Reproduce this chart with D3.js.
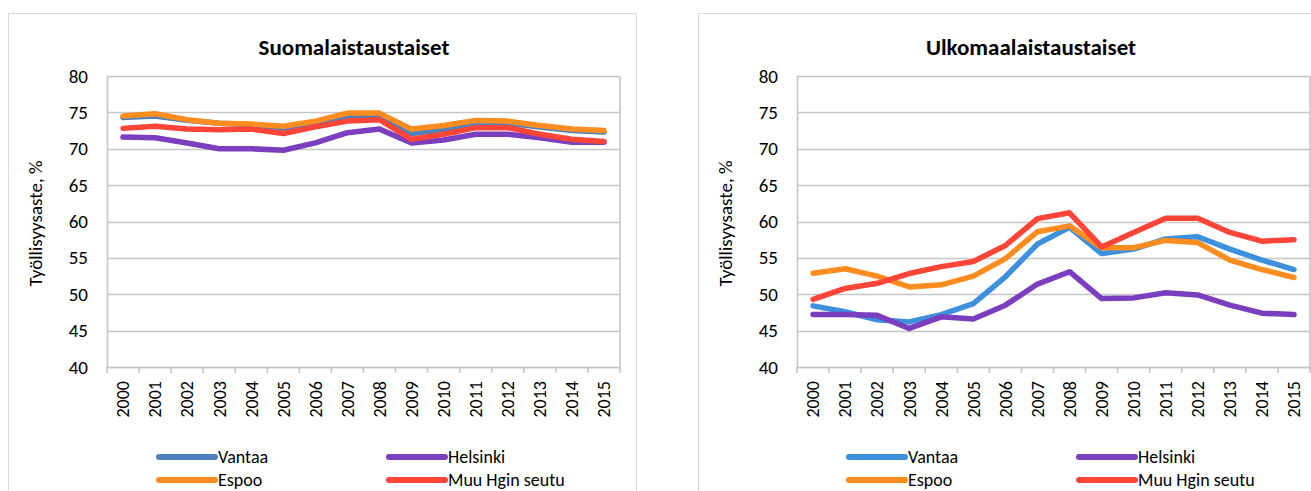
<!DOCTYPE html>
<html>
<head>
<meta charset="utf-8">
<script src="https://cdn.jsdelivr.net/npm/d3@7"></script>
<style>
    body { margin: 0; background: #fff; }
    svg { display: block; font-family: Carlito, Lato, "Open Sans", sans-serif; }
</style>
</head>
<body>
<div id="chart"></div>
<script>
// vuodet ja sarjat
const vuodet = ["2000", "2001", "2002", "2003", "2004", "2005", "2006", "2007",
    "2008", "2009", "2010", "2011", "2012", "2013", "2014", "2015"]
const yTicks = [40, 45, 50, 55, 60, 65, 70, 75, 80]
const sarjat = ["Vantaa", "Helsinki", "Espoo", "Muu Hgin seutu"]

// Suomalaistaustaiset
const suomiVantaa = [74.3, 74.5, 73.9, 73.5, 73.3, 72.8, 73.6, 74.4, 74.5, 72.1, 72.6, 73.4, 73.5, 73.0, 72.5, 72.3]
const suomiHelsinki = [71.6, 71.5, 70.8, 70.0, 70.0, 69.8, 70.8, 72.2, 72.7, 70.8, 71.2, 72.0, 72.0, 71.5, 70.9, 70.9]
const suomiEspoo = [74.5, 74.8, 74.0, 73.5, 73.4, 73.1, 73.8, 74.9, 74.9, 72.7, 73.2, 73.9, 73.8, 73.2, 72.7, 72.5]
const suomiMuu = [72.8, 73.1, 72.7, 72.6, 72.7, 72.1, 73.0, 73.8, 74.0, 71.3, 72.0, 72.9, 72.9, 72.0, 71.3, 71.0]

// Ulkomaalaistaustaiset
const ulkoVantaa = [48.4, 47.6, 46.5, 46.2, 47.2, 48.7, 52.4, 56.9, 59.2, 55.6, 56.2, 57.6, 57.9, 56.2, 54.7, 53.4]
const ulkoHelsinki = [47.2, 47.2, 47.1, 45.3, 46.9, 46.6, 48.5, 51.4, 53.1, 49.4, 49.5, 50.2, 49.9, 48.5, 47.4, 47.2]
const ulkoEspoo = [52.9, 53.5, 52.5, 51.0, 51.3, 52.5, 54.9, 58.6, 59.4, 56.4, 56.4, 57.4, 57.1, 54.7, 53.4, 52.3]
const ulkoMuu = [49.3, 50.8, 51.5, 52.85, 53.8, 54.5, 56.7, 60.4, 61.2, 56.5, 58.5, 60.45, 60.45, 58.5, 57.3, 57.5]

const varitVasen = ["#4f81bd", "#7a3ebf", "#ff8c1f", "#ff4438"]
const varitOikea = ["#3d90de", "#7a3ebf", "#ff8c1f", "#ff4438"]

const width = 1311
const height = 491
const fontti = "Carlito, Lato, 'Open Sans', sans-serif"

const svg = d3.select("#chart")
    .append("svg")
    .attr("width", width)
    .attr("height", height)

svg.append("rect")
    .attr("width", width)
    .attr("height", height)
    .attr("fill", "#fff")

function piirraKaavio(dx, otsikko, otsikkoX, arvot, varit) {
    const g = svg.append("g").attr("transform", `translate(${dx},0)`)

    // kaavion reunus
    g.append("rect")
        .attr("x", 8.5).attr("y", 13.5)
        .attr("width", 628).attr("height", 500)
        .attr("fill", "none")
        .attr("stroke", "#d9d9d9")

    const plot = { left: 107, top: 76, width: 513, height: 291 }

    const x = d3.scaleBand()
        .domain(vuodet)
        .range([plot.left, plot.left + plot.width])

    const y = d3.scaleLinear()
        .domain([40, 80])
        .range([plot.top + plot.height, plot.top])

    g.append("text")
        .attr("x", otsikkoX)
        .attr("y", 55)
        .attr("text-anchor", "middle")
        .attr("font-size", 23)
        .attr("font-weight", "bold")
        .attr("fill", "#000")
        .text(otsikko)

    // ruudukko
    g.append("g")
        .selectAll("line")
        .data(yTicks)
        .enter()
        .append("line")
        .attr("x1", plot.left)
        .attr("x2", plot.left + plot.width)
        .attr("y1", d => Math.round(y(d)) + 0.5)
        .attr("y2", d => Math.round(y(d)) + 0.5)
        .attr("stroke", "#c6c6c6")
        .attr("stroke-width", 1.6)

    g.append("line")
        .attr("x1", plot.left + plot.width)
        .attr("x2", plot.left + plot.width)
        .attr("y1", plot.top)
        .attr("y2", plot.top + plot.height)
        .attr("stroke", "#c6c6c6")
        .attr("stroke-width", 1.6)

    const yAxis = g.append("g")
        .attr("transform", `translate(${plot.left},0)`)
        .call(d3.axisLeft(y).tickValues(yTicks).tickSize(0).tickPadding(19))
    yAxis.select(".domain").attr("stroke", "#c6c6c6").attr("stroke-width", 1.6)
    yAxis.selectAll("text").attr("font-size", 19).attr("fill", "#000")
        .attr("font-family", fontti)

    const xAxis = g.append("g")
        .attr("transform", `translate(0,${plot.top + plot.height})`)
        .call(d3.axisBottom(x).tickSize(0).tickPadding(0))
    xAxis.select(".domain").attr("stroke", "#c6c6c6").attr("stroke-width", 1.6)
    xAxis.selectAll("text")
        .attr("font-size", 18)
        .attr("fill", "#000")
        .attr("font-family", fontti)
        .attr("transform", "rotate(-90)")
        .attr("text-anchor", "end")
        .attr("x", -14)
        .attr("y", 0)
        .attr("dy", "0.35em")

    // jakoviivat luokkien välissä
    const rajat = vuodet.map(v => x(v)).concat([plot.left + plot.width])
    g.append("g")
        .selectAll("line")
        .data(rajat)
        .enter()
        .append("line")
        .attr("x1", d => d)
        .attr("x2", d => d)
        .attr("y1", plot.top + plot.height)
        .attr("y2", plot.top + plot.height + 6)
        .attr("stroke", "#c6c6c6")
        .attr("stroke-width", 1.6)

    g.append("text")
        .attr("transform", `translate(42,${plot.top + plot.height / 2 + 2}) rotate(-90)`)
        .attr("text-anchor", "middle")
        .attr("font-size", 19)
        .attr("fill", "#000")
        .text("Työllisyysaste, %")

    const line = d3.line()
        .x((d, i) => x(vuodet[i]) + x.bandwidth() / 2)
        .y(d => y(d))

    g.append("g")
        .selectAll("path")
        .data(arvot)
        .enter()
        .append("path")
        .attr("d", d => line(d))
        .attr("fill", "none")
        .attr("stroke", (d, i) => varit[i])
        .attr("stroke-width", 5.5)
        .attr("stroke-linejoin", "round")
        .attr("stroke-linecap", "round")

    // selite
    const selitePaikat = [[159, 457], [389, 457], [159, 480], [389, 480]]
    const selite = g.append("g")
        .selectAll("g")
        .data(sarjat)
        .enter()
        .append("g")
        .attr("transform", (d, i) => `translate(${selitePaikat[i][0]},${selitePaikat[i][1]})`)

    selite.append("line")
        .attr("x1", 0).attr("x2", 56)
        .attr("stroke", (d, i) => varit[i])
        .attr("stroke-width", 6)
        .attr("stroke-linecap", "round")

    selite.append("text")
        .attr("x", 59)
        .attr("dy", "0.33em")
        .attr("font-size", 18)
        .attr("fill", "#000")
        .text(d => d)
}

piirraKaavio(0, "Suomalaistaustaiset", 354, [suomiVantaa, suomiHelsinki, suomiEspoo, suomiMuu], varitVasen)
piirraKaavio(690, "Ulkomaalaistaustaiset", 341, [ulkoVantaa, ulkoHelsinki, ulkoEspoo, ulkoMuu], varitOikea)
</script>
</body>
</html>
